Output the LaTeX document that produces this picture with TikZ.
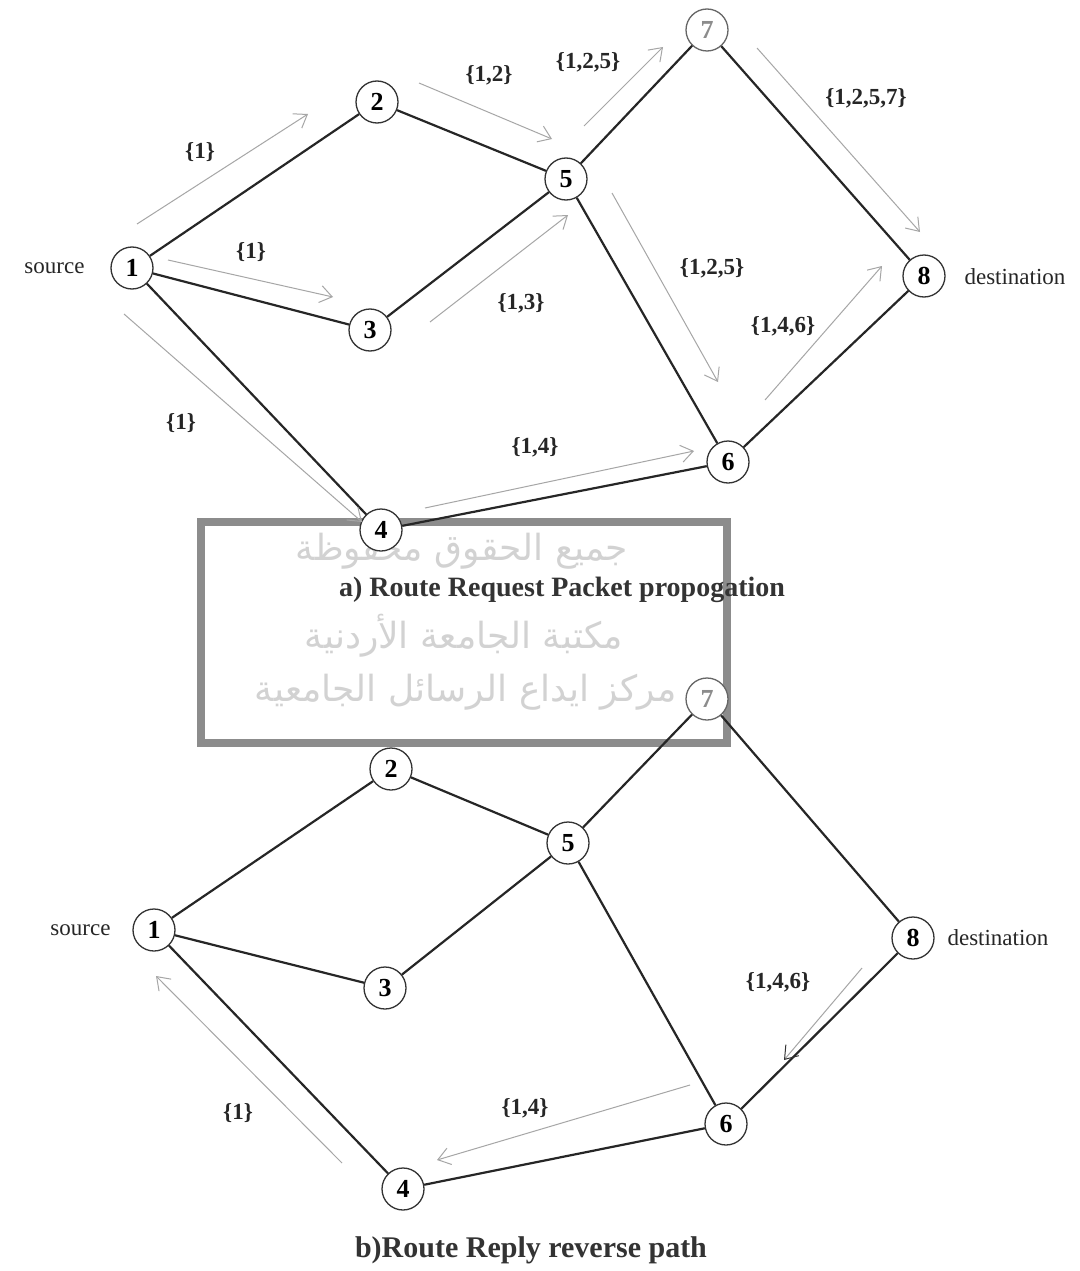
\documentclass[tikz,border=0pt]{standalone}
\usepackage{fontspec}
\setmainfont{Liberation Serif}
\newfontfamily\arabicfont[Script=Arabic]{DejaVu Sans}
\TeXXeTstate=1
\usetikzlibrary{arrows.meta}
\begin{document}
\begin{tikzpicture}[x=1pt,y=-1pt,
  nd/.style={circle, draw=black!80, line width=1.3pt, fill=white, minimum size=42pt, inner sep=0pt, font=\fontsize{26}{26}\selectfont\bfseries},
  faded/.style={draw=black!60, text=black!45},
  edge/.style={line width=2.2pt, draw=black!85},
  msg/.style={draw=gray!70, line width=1pt, -{Straight Barb[length=12pt,width=17pt]}},
  lbl/.style={font=\fontsize{23}{23}\selectfont\bfseries, text=black!85},
  side/.style={font=\fontsize{23}{23}\selectfont, text=black!85},
  ttl/.style={font=\fontsize{28}{28}\selectfont\bfseries, text=black!80},
  ttlb/.style={font=\fontsize{30}{30}\selectfont\bfseries, text=black!80},
  arab/.style={font=\arabicfont\fontsize{36}{36}\selectfont, text=gray!35},
  wbox/.style={draw=gray!90, line width=8pt, fill=white}]
\useasboundingbox (0,0) rectangle (1079,1271);
\fill[white] (0,0) rectangle (1079,1271);

% watermark box
\node[wbox, minimum width=526pt, minimum height=221pt, inner sep=0pt] (box) at (464,632.5) {};
\node[arab] (w1) at (462,551) {\beginR جميع الحقوق محفوظة\endR};
\node[arab] (w2) at (464,636) {\beginR مكتبة الجامعة الأردنية\endR};
\node[arab] (w3) at (466,692) {\beginR مركز ايداع الرسائل الجامعية\endR};
\node[ttl] (ta) at (562,590) {a) Route Request Packet propogation};
\node[ttlb] (tb) at (531,1250) {b)Route Reply reverse path};

% ---------- top graph ----------
\node[nd] (t1) at (132,268) {1};
\node[nd] (t2) at (377,102) {2};
\node[nd] (t3) at (370,330) {3};
\node[nd] (t4) at (381,530) {4};
\node[nd] (t5) at (566,179) {5};
\node[nd] (t6) at (728,462) {6};
\node[nd, faded] (t7) at (707,30) {7};
\node[nd] (t8) at (924,276) {8};

\node[side, anchor=east] (tsrc) at (88,268) {source};
\node[side, anchor=west] (tdst) at (961,277) {destination};

\draw[edge] (t1) -- (t2);
\draw[edge] (t1) -- (t3);
\draw[edge] (t1) -- (t4);
\draw[edge] (t2) -- (t5);
\draw[edge] (t3) -- (t5);
\draw[edge] (t4) -- (t6);
\draw[edge] (t5) -- (t7);
\draw[edge] (t5) -- (t6);
\draw[edge] (t7) -- (t8);
\draw[edge] (t6) -- (t8);

\coordinate (a1s) at (137,224); \coordinate (a1e) at (308,114);
\coordinate (a2s) at (168,260); \coordinate (a2e) at (333,297);
\coordinate (a3s) at (124,314); \coordinate (a3e) at (362,522);
\coordinate (a4s) at (419,83);  \coordinate (a4e) at (552,139);
\coordinate (a5s) at (430,322); \coordinate (a5e) at (568,215);
\coordinate (a6s) at (584,126); \coordinate (a6e) at (663,47);
\coordinate (a7s) at (757,48);  \coordinate (a7e) at (920,232);
\coordinate (a8s) at (612,193); \coordinate (a8e) at (718,382);
\coordinate (a9s) at (425,508); \coordinate (a9e) at (694,451);
\coordinate (a10s) at (765,400); \coordinate (a10e) at (882,266);
\draw[msg] (a1s) -- (a1e);
\draw[msg] (a2s) -- (a2e);
\draw[msg] (a3s) -- (a3e);
\draw[msg] (a4s) -- (a4e);
\draw[msg] (a5s) -- (a5e);
\draw[msg] (a6s) -- (a6e);
\draw[msg] (a7s) -- (a7e);
\draw[msg] (a8s) -- (a8e);
\draw[msg] (a9s) -- (a9e);
\draw[msg] (a10s) -- (a10e);

\node[lbl] (l1) at (200,152) {\{1\}};
\node[lbl] (l2) at (251,252) {\{1\}};
\node[lbl] (l3) at (181,423) {\{1\}};
\node[lbl] (l4) at (489,75) {\{1,2\}};
\node[lbl] (l5) at (588,62) {\{1,2,5\}};
\node[lbl] (l6) at (866,98) {\{1,2,5,7\}};
\node[lbl] (l7) at (521,303) {\{1,3\}};
\node[lbl] (l8) at (712,268) {\{1,2,5\}};
\node[lbl] (l9) at (783,326) {\{1,4,6\}};
\node[lbl] (l10) at (535,447) {\{1,4\}};

% ---------- bottom graph ----------
\node[nd] (b1) at (154,930) {1};
\node[nd] (b2) at (391,769) {2};
\node[nd] (b3) at (385,988) {3};
\node[nd] (b4) at (403,1189) {4};
\node[nd] (b5) at (568,843) {5};
\node[nd] (b6) at (726,1124) {6};
\node[nd, faded] (b7) at (707,699) {7};
\node[nd] (b8) at (913,938) {8};

\node[side, anchor=east] (bsrc) at (114,930) {source};
\node[side, anchor=west] (bdst) at (944,938) {destination};

\draw[edge] (b1) -- (b2);
\draw[edge] (b1) -- (b3);
\draw[edge] (b1) -- (b4);
\draw[edge] (b2) -- (b5);
\draw[edge] (b3) -- (b5);
\draw[edge] (b4) -- (b6);
\draw[edge] (b5) -- (b7);
\draw[edge] (b5) -- (b6);
\draw[edge] (b7) -- (b8);
\draw[edge] (b6) -- (b8);

\coordinate (r1s) at (342,1163); \coordinate (r1e) at (156,976);
\coordinate (r2s) at (690,1085); \coordinate (r2e) at (437,1160);
\coordinate (r3s) at (862,968);  \coordinate (r3e) at (784,1060);
\draw[msg] (r1s) -- (r1e);
\draw[msg] (r2s) -- (r2e);
\draw[msg, -{Straight Barb[length=12pt,width=17pt, color=black!80]}] (r3s) -- (r3e);

\node[lbl] (m1) at (238,1113) {\{1\}};
\node[lbl] (m2) at (525,1108) {\{1,4\}};
\node[lbl] (m3) at (778,982) {\{1,4,6\}};
\end{tikzpicture}
\end{document}
